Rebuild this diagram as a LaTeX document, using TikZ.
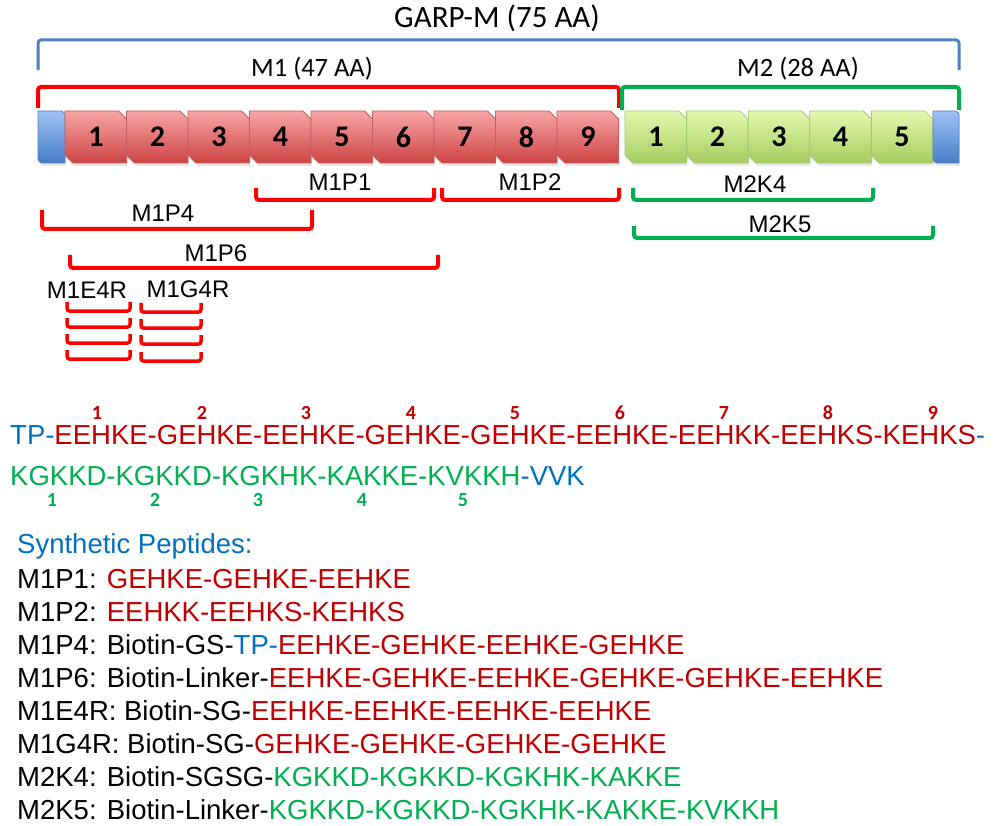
\documentclass[tikz,border=0pt]{standalone}
\usepackage{fontspec}
\setmainfont{Liberation Sans}
\newfontfamily\calib{Carlito}
\usetikzlibrary{shadows,positioning}
\definecolor{garpblue}{RGB}{79,129,189}
\definecolor{domred}{RGB}{255,0,0}
\definecolor{domgreen}{RGB}{0,176,80}
\definecolor{seqred}{RGB}{192,0,0}
\definecolor{tpblue}{RGB}{0,112,192}
\definecolor{redtop}{RGB}{248,165,165}
\definecolor{redbot}{RGB}{205,68,68}
\definecolor{redline}{RGB}{195,95,95}
\definecolor{greentop}{RGB}{228,247,175}
\definecolor{greenbot}{RGB}{165,205,95}
\definecolor{greenline}{RGB}{160,200,110}
\definecolor{captop}{RGB}{158,195,245}
\definecolor{capbot}{RGB}{70,125,200}
\definecolor{capline}{RGB}{90,130,190}
\begin{document}
\begin{tikzpicture}[
  x=1pt,y=-1pt,
  segfill/.style={line width=0.8pt, drop shadow={shadow xshift=1pt, shadow yshift=-3pt, opacity=0.18}},
  redfill/.style={segfill, top color=redtop, bottom color=redbot, draw=redline},
  greenfill/.style={segfill, top color=greentop, bottom color=greenbot, draw=greenline},
  capfill/.style={segfill, top color=captop, bottom color=capbot, draw=capline},
  segnum/.style={font=\calib\bfseries\fontsize{30}{30}\selectfont, inner sep=0pt},
  brk/.style={line width=4pt, rounded corners=3pt},
  smallbrk/.style={line width=3.5pt, rounded corners=2.5pt, domred},
  toplbl/.style={font=\calib\fontsize{26.5}{26.5}\selectfont, inner sep=0pt},
  lbl/.style={font=\fontsize{24}{24}\selectfont, inner sep=0pt},
  seqtxt/.style={font=\fontsize{27.5}{33}\selectfont, inner sep=0pt, anchor=base west},
  numred/.style={font=\calib\bfseries\fontsize{20}{20}\selectfont, seqred, inner sep=0pt, text height=12.5pt, text depth=0pt},
  numgreen/.style={font=\calib\bfseries\fontsize{20}{20}\selectfont, domgreen, inner sep=0pt, text height=12.5pt, text depth=0pt}
]
\useasboundingbox (0,0) rectangle (993,826);
\path[capfill] (38,111) -- ++(24,0) -- ++(3,3) -- ++(0,49) -- ++(-24,0) -- ++(-3,-3) -- cycle;
\path[redfill] (65,111) -- ++(53.5,0) -- ++(8,8) -- ++(0,44) -- ++(-53.5,0) -- ++(-8,-8) -- cycle;
\path[redfill] (126.5,111) -- ++(53.5,0) -- ++(8,8) -- ++(0,44) -- ++(-53.5,0) -- ++(-8,-8) -- cycle;
\path[redfill] (188,111) -- ++(53.5,0) -- ++(8,8) -- ++(0,44) -- ++(-53.5,0) -- ++(-8,-8) -- cycle;
\path[redfill] (249.5,111) -- ++(53.5,0) -- ++(8,8) -- ++(0,44) -- ++(-53.5,0) -- ++(-8,-8) -- cycle;
\path[redfill] (311,111) -- ++(53.5,0) -- ++(8,8) -- ++(0,44) -- ++(-53.5,0) -- ++(-8,-8) -- cycle;
\path[redfill] (372.5,111) -- ++(53.5,0) -- ++(8,8) -- ++(0,44) -- ++(-53.5,0) -- ++(-8,-8) -- cycle;
\path[redfill] (434,111) -- ++(53.5,0) -- ++(8,8) -- ++(0,44) -- ++(-53.5,0) -- ++(-8,-8) -- cycle;
\path[redfill] (495.5,111) -- ++(53.5,0) -- ++(8,8) -- ++(0,44) -- ++(-53.5,0) -- ++(-8,-8) -- cycle;
\path[redfill] (557,111) -- ++(53.5,0) -- ++(8,8) -- ++(0,44) -- ++(-53.5,0) -- ++(-8,-8) -- cycle;
\path[greenfill] (625,111) -- ++(53.5,0) -- ++(8,8) -- ++(0,44) -- ++(-53.5,0) -- ++(-8,-8) -- cycle;
\path[greenfill] (686.6,111) -- ++(53.5,0) -- ++(8,8) -- ++(0,44) -- ++(-53.5,0) -- ++(-8,-8) -- cycle;
\path[greenfill] (748.2,111) -- ++(53.5,0) -- ++(8,8) -- ++(0,44) -- ++(-53.5,0) -- ++(-8,-8) -- cycle;
\path[greenfill] (809.8,111) -- ++(53.5,0) -- ++(8,8) -- ++(0,44) -- ++(-53.5,0) -- ++(-8,-8) -- cycle;
\path[greenfill] (871.4,111) -- ++(53.5,0) -- ++(8,8) -- ++(0,44) -- ++(-53.5,0) -- ++(-8,-8) -- cycle;
\path[capfill] (933,111) -- ++(23,0) -- ++(3,3) -- ++(0,49) -- ++(-23,0) -- ++(-3,-3) -- cycle;
\node[segnum] (r1) at (96,137) {1};
\node[segnum] (r2) at (157.5,137) {2};
\node[segnum] (r3) at (219,137) {3};
\node[segnum] (r4) at (280.5,137) {4};
\node[segnum] (r5) at (342,137) {5};
\node[segnum] (r6) at (403.5,137) {6};
\node[segnum] (r7) at (465,137) {7};
\node[segnum] (r8) at (526.5,137) {8};
\node[segnum] (r9) at (588,137) {9};
\node[segnum] (g1) at (656,137) {1};
\node[segnum] (g2) at (717.5,137) {2};
\node[segnum] (g3) at (779,137) {3};
\node[segnum] (g4) at (840.5,137) {4};
\node[segnum] (g5) at (902,137) {5};
\draw[brk, garpblue, line width=3pt] (38,70) -- (38,40) -- (959,40) -- (959,70);
\node[toplbl, font=\calib\fontsize{31}{31}\selectfont] (garp) at (497,18) {GARP-M (75 AA)};
\draw[brk, domred] (38,108) -- (38,87) -- (619,87) -- (619,108);
\node[toplbl] (m1) at (312,69) {M1 (47 AA)};
\draw[brk, domgreen] (622,110) -- (622,87) -- (959,87) -- (959,110);
\node[toplbl] (m2) at (798,69) {M2 (28 AA)};
\draw[brk, domred] (256,188) -- (256,200) -- (434,200) -- (434,188);
\node[lbl] (p1) at (340,182) {M1P1};
\draw[brk, domred] (442,188) -- (442,200) -- (619,200) -- (619,188);
\node[lbl] (p2) at (530,182) {M1P2};
\draw[brk, domred] (42,210) -- (42,229) -- (312,229) -- (312,210);
\node[lbl] (p4) at (163,213) {M1P4};
\draw[brk, domred] (70,255) -- (70,268) -- (438,268) -- (438,255);
\node[lbl] (p6) at (216,253) {M1P6};
\node[lbl] (e4r) at (87,290) {M1E4R};
\node[lbl] (g4r) at (188,289) {M1G4R};
\draw[smallbrk] (67,302) -- (67,311) -- (130,311) -- (130,302);
\draw[smallbrk] (67,318) -- (67,327) -- (130,327) -- (130,318);
\draw[smallbrk] (67,334) -- (67,343) -- (130,343) -- (130,334);
\draw[smallbrk] (67,350) -- (67,359) -- (130,359) -- (130,350);
\draw[smallbrk] (141,303) -- (141,312) -- (201,312) -- (201,303);
\draw[smallbrk] (141,319) -- (141,328) -- (201,328) -- (201,319);
\draw[smallbrk] (141,335) -- (141,344) -- (201,344) -- (201,335);
\draw[smallbrk] (141,352) -- (141,361) -- (201,361) -- (201,352);
\draw[brk, domgreen] (633,188) -- (633,200) -- (873,200) -- (873,188);
\node[lbl] (k4) at (755,184) {M2K4};
\draw[brk, domgreen] (634,226) -- (634,238) -- (933,238) -- (933,226);
\node[lbl] (k5) at (780,224) {M2K5};
\node[seqtxt, text height=20pt, text depth=0pt] (s1) at (10,444) {\textcolor{tpblue}{TP-}\textcolor{seqred}{EEHKE-GEHKE-EEHKE-GEHKE-GEHKE-EEHKE-EEHKK-EEHKS-KEHKS}\textcolor{tpblue}{-}};
\node[seqtxt, text height=20pt, text depth=0pt] (s2) at (10,485) {\textcolor{domgreen}{KGKKD-KGKKD-KGKHK-KAKKE-KVKKH}\textcolor{tpblue}{-VVK}};
\node[numred] (n1) at (97,413) {1};
\node[numred] (n2) at (202,413) {2};
\node[numred] (n3) at (306,413) {3};
\node[numred] (n4) at (411,413) {4};
\node[numred] (n5) at (515,413) {5};
\node[numred] (n6) at (620,413) {6};
\node[numred] (n7) at (724,413) {7};
\node[numred] (n8) at (828,413) {8};
\node[numred] (n9) at (933,413) {9};
\node[numgreen] (k1) at (52,500) {1};
\node[numgreen] (k2) at (155,500) {2};
\node[numgreen] (k3) at (258,500) {3};
\node[numgreen] (k4n) at (362,500) {4};
\node[numgreen] (k5n) at (463,500) {5};
\node[seqtxt] (t0) at (17,553) {\textcolor{tpblue}{Synthetic Peptides:}};
\node[seqtxt] (t1) at (17,588) {M1P1: \textcolor{seqred}{GEHKE-GEHKE-EEHKE}};
\node[seqtxt] (t2) at (17,621) {M1P2: \textcolor{seqred}{EEHKK-EEHKS-KEHKS}};
\node[seqtxt] (t3) at (17,654) {M1P4: Biotin-GS-\textcolor{tpblue}{TP-}\textcolor{seqred}{EEHKE-GEHKE-EEHKE-GEHKE}};
\node[seqtxt] (t4) at (17,687) {M1P6: Biotin-Linker-\textcolor{seqred}{EEHKE-GEHKE-EEHKE-GEHKE-GEHKE-EEHKE}};
\node[seqtxt] (t5) at (17,720) {M1E4R: Biotin-SG-\textcolor{seqred}{EEHKE-EEHKE-EEHKE-EEHKE}};
\node[seqtxt] (t6) at (17,753) {M1G4R: Biotin-SG-\textcolor{seqred}{GEHKE-GEHKE-GEHKE-GEHKE}};
\node[seqtxt] (t7) at (17,786) {M2K4: Biotin-SGSG-\textcolor{domgreen}{KGKKD-KGKKD-KGKHK-KAKKE}};
\node[seqtxt] (t8) at (17,819) {M2K5: Biotin-Linker-\textcolor{domgreen}{KGKKD-KGKKD-KGKHK-KAKKE-KVKKH}};
\end{tikzpicture}
\end{document}
